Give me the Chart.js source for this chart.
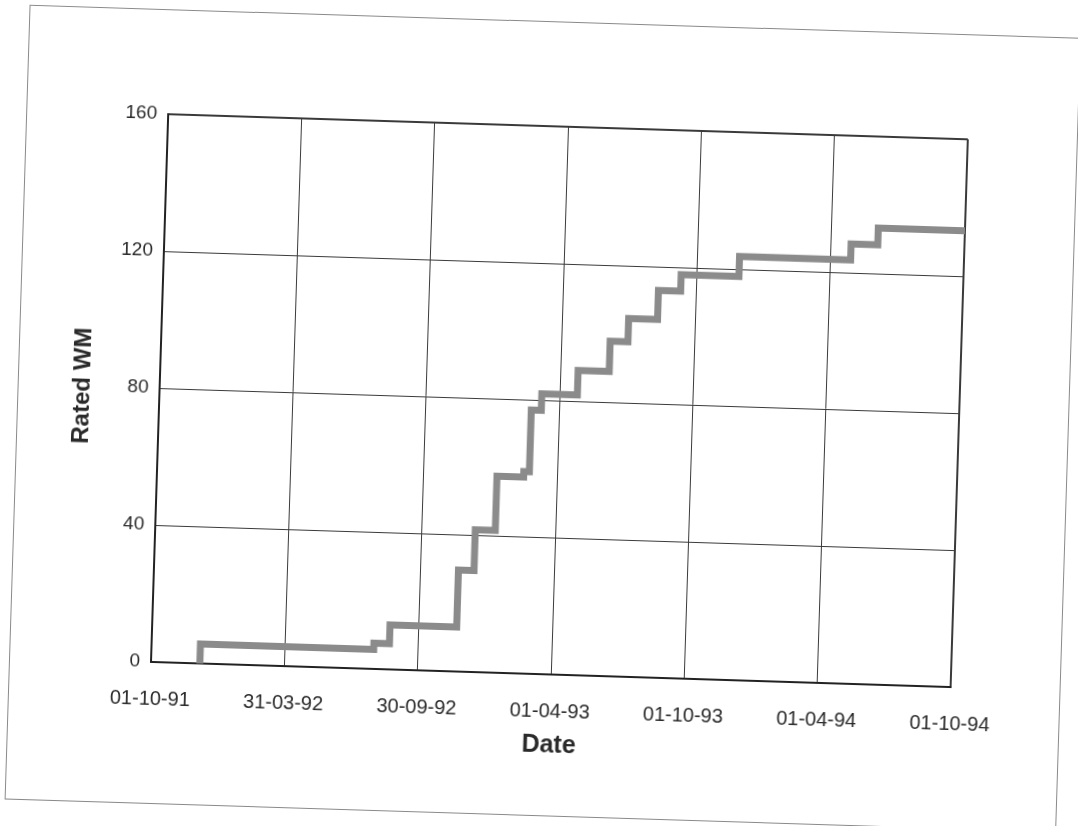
<!DOCTYPE html>
<html>
<head>
<meta charset="utf-8">
<title>Rated WM by date</title>
<script src="https://cdn.jsdelivr.net/npm/chart.js@4.4.1/dist/chart.umd.min.js"></script>
<style>
  html, body { margin: 0; padding: 0; background: #ffffff; overflow: hidden; }
  #sheet {
    position: absolute; left: 0; top: 0; width: 1078px; height: 826px;
    transform: rotate(1.8deg); transform-origin: 539px 413px;
  }
  #frame {
    position: absolute; left: 17px; top: 21px; width: 1050px; height: 793px;
    border: 1.5px solid #8a8a8a;
  }
  #chart { position: absolute; left: 0; top: 0; }
</style>
</head>
<body>
<div id="sheet">
  <div id="frame"></div>
  <canvas id="chart" width="1078" height="826"></canvas>
</div>
<script>
// Months elapsed since 01-10-91 at which the rated total changes
const monthsSinceStart = [2.2, 2.2, 10.0, 10.7, 13.7, 14.4, 15.3, 16.5, 16.75, 17.2, 18.8, 20.2, 21.0, 22.3, 23.3, 25.9, 30.9, 32.1, 36];
// Cumulative rated value reached at each of those months
const ratedValues = [0, 5.7, 7.5, 13, 29.6, 41.5, 57.4, 59, 77, 81.8, 89, 97.8, 104.6, 113.1, 117.9, 123.7, 128.4, 133.3, 133.3];
// Date labels for the six-monthly x ticks
const xTickLabels = ['01-10-91', '31-03-92', '30-09-92', '01-04-93', '01-10-93', '01-04-94', '01-10-94'];
// Value ticks on the y axis
const yTickValues = [0, 40, 80, 120, 160];

const FONT = '"Liberation Sans", Arial, Helvetica, sans-serif';
const INK = '#2a2a2a';

const points = monthsSinceStart.map((m, i) => ({ x: m, y: ratedValues[i] }));

new Chart(document.getElementById('chart'), {
  type: 'line',
  data: {
    datasets: [{
      data: points,
      // hold each value until the next change, then rise vertically
      stepped: 'before',
      borderColor: '#8b8b8b',
      borderWidth: 7,
      borderJoinStyle: 'miter',
      borderCapStyle: 'butt',
      pointRadius: 0,
      fill: false
    }]
  },
  options: {
    responsive: false,
    devicePixelRatio: 1,
    animation: false,
    events: [],
    layout: { padding: { left: 68, top: 126, right: 119, bottom: 66 } },
    plugins: { legend: { display: false }, tooltip: { enabled: false } },
    scales: {
      x: {
        type: 'linear',
        min: 0, max: 36,
        afterFit: (s) => { s.height = 86; },
        ticks: {
          stepSize: 6,
          padding: 25,
          color: INK,
          font: { family: FONT, size: 20 },
          maxRotation: 0,
          callback: (v) => xTickLabels[Math.round(v / 6)]
        },
        grid: {
          drawTicks: false,
          color: '#3a3a3a',
          lineWidth: (c) => (c.tick && c.tick.value === 36 ? 2 : 1)
        },
        border: { display: true, color: '#222222', width: 2 },
        title: {
          display: true, text: 'Date', color: INK,
          font: { family: FONT, size: 25, weight: 'bold' },
          padding: 0
        }
      },
      y: {
        min: 0, max: 160,
        afterFit: (s) => { s.width = 91; },
        afterBuildTicks: (s) => { s.ticks = yTickValues.map(v => ({ value: v })); },
        ticks: {
          padding: 11,
          color: INK,
          font: { family: FONT, size: 19 }
        },
        grid: {
          drawTicks: false,
          color: '#3a3a3a',
          lineWidth: (c) => (c.tick && c.tick.value === 160 ? 2 : 1)
        },
        border: { display: true, color: '#222222', width: 2 },
        title: {
          display: true, text: 'Rated WM', color: INK,
          font: { family: FONT, size: 24, weight: 'bold' },
          padding: 0
        }
      }
    }
  }
});
</script>
</body>
</html>
